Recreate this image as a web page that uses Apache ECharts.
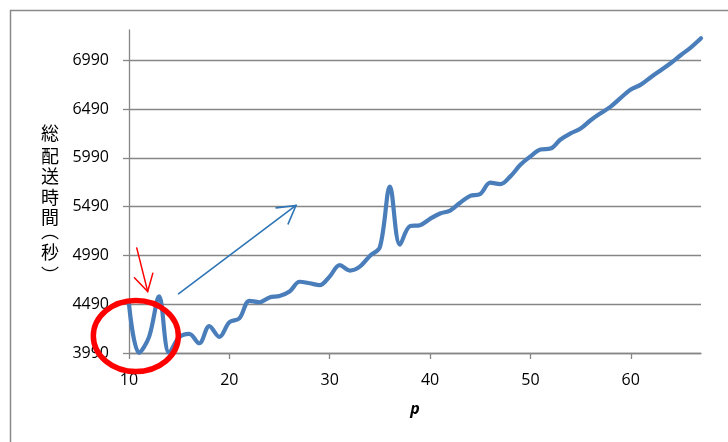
<!DOCTYPE html>
<html>
<head>
<meta charset="utf-8">
<script src="https://cdn.jsdelivr.net/npm/echarts@6/dist/echarts.min.js"></script>
<style>
  html, body { margin: 0; padding: 0; background: #ffffff; }
  #chart { width: 728px; height: 442px; }
</style>
</head>
<body>
<div id="chart"></div>
<script>
// p (number of depots) and total delivery time in seconds
const pValues = [10, 11, 12, 13, 14, 15, 16, 17, 18, 19,
                 20, 21, 22, 23, 24, 25, 26, 27, 28, 29,
                 30, 31, 32, 33, 34, 35, 36, 37, 38, 39,
                 40, 41, 42, 43, 44, 45, 46, 47, 48, 49,
                 50, 51, 52, 53, 54, 55, 56, 57, 58, 59,
                 60, 61, 62, 63, 64, 65, 66, 67];
const totalTime = [4490, 3992, 4155, 4570, 3990, 4150, 4185, 4090, 4265, 4155,
                   4305, 4345, 4525, 4510, 4560, 4575, 4620, 4720, 4705, 4685,
                   4775, 4890, 4835, 4875, 4985, 5075, 5695, 5100, 5290, 5300,
                   5365, 5420, 5450, 5530, 5600, 5620, 5735, 5720, 5800, 5918,
                   6005, 6075, 6085, 6178, 6240, 6290, 6375, 6447, 6515, 6605,
                   6690, 6740, 6816, 6888, 6962, 7044, 7122, 7215];
const xTicks = [10, 20, 30, 40, 50, 60];
const yTicks = [3990, 4490, 4990, 5490, 5990, 6490, 6990];
// y-axis title written top to bottom, with vertical bracket forms
const yTitleChars = ['総', '配', '送', '時', '間', '︵', '秒', '︶'];

const axisGray = '#868686';
const labelFont = '"Open Sans", "Noto Sans", sans-serif';
const cjkFont = '"Noto Sans CJK JP", sans-serif';

const chart = echarts.init(document.getElementById('chart'), null, { renderer: 'canvas' });

chart.setOption({
  animation: false,
  backgroundColor: '#ffffff',
  grid: { left: 129, right: 27, top: 30, bottom: 89, containLabel: false },
  xAxis: {
    type: 'value',
    min: 10,
    max: 67,
    name: 'p',
    nameLocation: 'middle',
    nameGap: 48,
    nameTextStyle: { fontFamily: labelFont, fontSize: 16, fontWeight: 'bold', fontStyle: 'italic', color: '#000' },
    axisLine: { show: true, lineStyle: { color: axisGray, width: 1.3 } },
    axisTick: { show: true, inside: false, length: 6, customValues: xTicks, lineStyle: { color: axisGray, width: 1.3 } },
    axisLabel: { customValues: xTicks, margin: 19, fontFamily: labelFont, fontSize: 16, color: '#000' },
    splitLine: { show: false }
  },
  yAxis: {
    type: 'value',
    min: 3990,
    max: 7300,
    axisLine: { show: true, lineStyle: { color: axisGray, width: 1.3 } },
    axisTick: { show: true, inside: false, length: 6, customValues: yTicks, lineStyle: { color: axisGray, width: 1.3 } },
    axisLabel: { customValues: yTicks, margin: 20, fontFamily: labelFont, fontSize: 16, color: '#000',
                 formatter: v => String(v) },
    splitLine: { show: true, lineStyle: { color: axisGray, width: 1.3 } }
  },
  series: [{
    type: 'line',
    data: pValues.map((p, i) => [p, totalTime[i]]),
    smooth: 0.35,
    showSymbol: false,
    clip: false,
    lineStyle: { color: '#4a7ebb', width: 4.2, cap: 'round', join: 'round' },
    z: 3
  }]
});

// Annotations placed in data space, converted to pixels
const px = (p, v) => chart.convertToPixel({ gridIndex: 0 }, [p, v]);

function arrow(from, to, color, width, headLen) {
  const a = px(from[0], from[1]);
  const b = px(to[0], to[1]);
  const ang = Math.atan2(a[1] - b[1], a[0] - b[0]);
  const w = 30 * Math.PI / 180;
  const l = [b[0] + headLen * Math.cos(ang + w), b[1] + headLen * Math.sin(ang + w)];
  const r = [b[0] + headLen * Math.cos(ang - w), b[1] + headLen * Math.sin(ang - w)];
  const style = { stroke: color, lineWidth: width, fill: null, lineCap: 'round' };
  return [
    { type: 'polyline', z: 20, shape: { points: [a, b] }, style },
    { type: 'polyline', z: 20, shape: { points: [l, b, r] }, style }
  ];
}

// Stacked title characters; the bracket forms sit toward the edge of their cell
const titleY = [133, 156, 176.5, 197.5, 217.5, 231.5, 252.5, 275];
const yTitle = yTitleChars.map((ch, i) => ({
  type: 'text', z: 10,
  x: 50, y: titleY[i],
  style: { text: ch, fontFamily: cjkFont, fontSize: 18, fill: '#000',
           align: 'center', verticalAlign: 'middle' }
}));

const ringCenter = px(10.68, 4165);

chart.setOption({
  graphic: [
    // chart frame
    { type: 'rect', z: 1, shape: { x: 10.5, y: 10.5, width: 740, height: 460 },
      style: { fill: null, stroke: '#8a8a8a', lineWidth: 1.5 } },
    ...yTitle,
    // highlight ring around the first oscillation
    { type: 'ellipse', z: 20, shape: { cx: ringCenter[0], cy: ringCenter[1], rx: 42.5, ry: 35.5 },
      style: { fill: null, stroke: '#ff0000', lineWidth: 5.5 } },
    ...arrow([10.77, 5067], [11.86, 4621], '#ff0000', 1.5, 19),
    ...arrow([14.93, 4597], [26.64, 5502], '#2e75b6', 1.6, 20)
  ]
});
</script>
</body>
</html>
